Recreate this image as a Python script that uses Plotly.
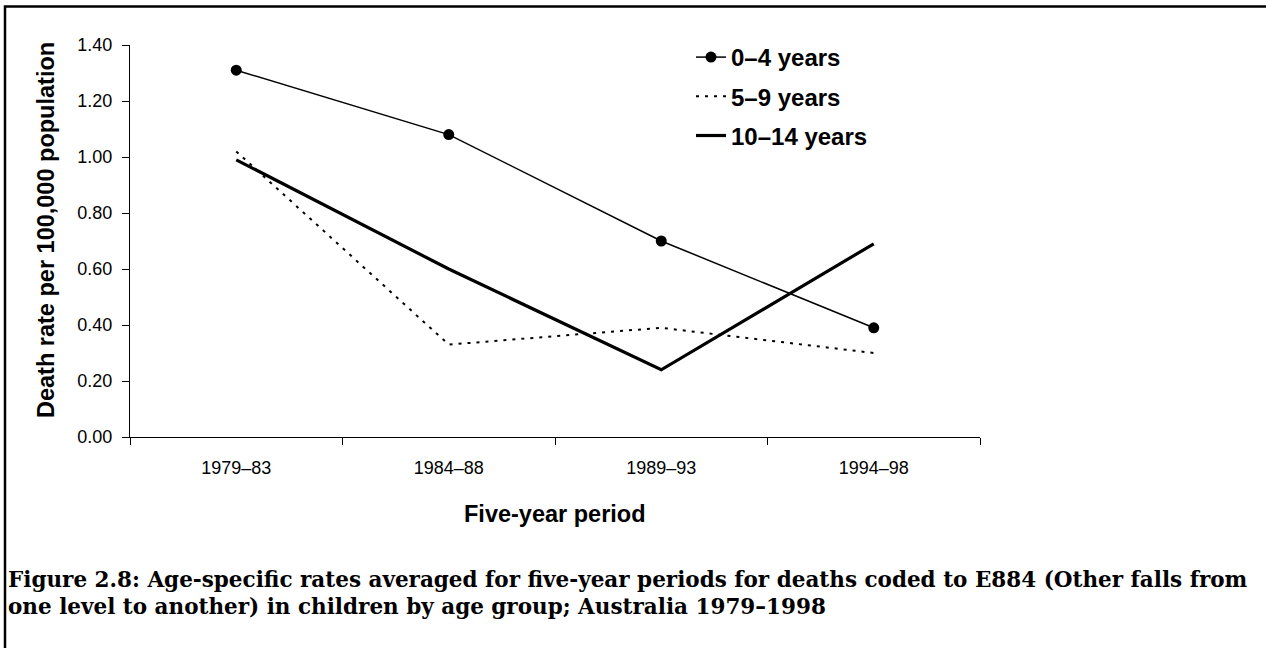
import plotly.graph_objects as go

periods = ["1979–83", "1984–88", "1989–93", "1994–98"]
age_0_4 = [1.31, 1.08, 0.70, 0.39]
age_5_9 = [1.02, 0.33, 0.39, 0.30]
age_10_14 = [0.99, 0.60, 0.24, 0.69]
y_ticks = [0.0, 0.2, 0.4, 0.6, 0.8, 1.0, 1.2, 1.4]

W, H = 1266, 648
L, R, T, B = 130, 286, 45, 211
pw, ph = W - L - R, H - T - B

def px_x(p):
    return (p - L) / pw

def px_y(p):
    return (H - B - p) / ph

fig = go.Figure()
fig.add_trace(go.Scatter(x=periods, y=age_0_4, name="0–4 years", mode="lines+markers",
                         line=dict(color="black", width=1.5),
                         marker=dict(color="black", size=11), legendgroup="a"))
fig.add_trace(go.Scatter(x=periods, y=age_5_9, name="5–9 years", mode="lines",
                         line=dict(color="black", width=2, dash="3px,6px"), legendgroup="b"))
fig.add_trace(go.Scatter(x=periods, y=age_10_14, name="10–14 years", mode="lines",
                         line=dict(color="black", width=3.2), legendgroup="c"))

fig.update_layout(
    width=W, height=H,
    margin=dict(l=L, r=R, t=T, b=B),
    paper_bgcolor="white", plot_bgcolor="white",
    font=dict(family="Liberation Sans, Arial", color="black", size=18),
    showlegend=True,
    legend=dict(x=px_x(691), y=px_y(35), xanchor="left", yanchor="top",
                font=dict(size=24, family="Liberation Sans, Arial", weight="bold"),
                traceorder="grouped", tracegroupgap=5, bgcolor="rgba(0,0,0,0)"),
    xaxis=dict(type="category", range=[-0.5, 3.5], showline=True, linecolor="black",
               linewidth=1, ticks="outside", tickson="boundaries", ticklen=7,
               tickcolor="black", showgrid=False, zeroline=False,
               tickfont=dict(size=18), ticklabelstandoff=14),
    yaxis=dict(range=[0, 1.4], tickvals=y_ticks, tickformat=".2f", showline=True,
               linecolor="black", linewidth=1, ticks="outside", ticklen=7,
               tickcolor="black", showgrid=False, zeroline=False,
               tickfont=dict(size=18), ticklabelstandoff=6),
)

fig.add_annotation(text="<b>Death rate per 100,000 population</b>", textangle=-90,
                   xref="paper", yref="paper", x=px_x(46), y=px_y(230),
                   xanchor="center", yanchor="middle",
                   showarrow=False, font=dict(size=23.5))
fig.add_annotation(text="<b>Five-year period</b>", xref="paper", yref="paper",
                   x=0.5, y=px_y(514), xanchor="center", yanchor="middle",
                   showarrow=False, font=dict(size=23.5))

caption_lines = [
    "Figure 2.8: Age-specific rates averaged for five-year periods for deaths coded to E884 (Other falls from",
    "one level to another) in children by age group; Australia 1979–1998",
]
for line_text, cy in zip(caption_lines, [579, 606]):
    fig.add_annotation(
        text="<b>" + line_text + "</b>",
        xref="paper", yref="paper", x=px_x(6), y=px_y(cy), xanchor="left", yanchor="middle",
        align="left", showarrow=False,
        font=dict(size=21.5, family="DejaVu Serif, Liberation Serif, serif"))

fig.add_shape(type="rect", xref="paper", yref="paper",
              x0=px_x(5), x1=px_x(1290), y0=px_y(670), y1=px_y(6.5),
              line=dict(color="black", width=2.5), fillcolor="rgba(0,0,0,0)", layer="above")

fig.write_html("out.html", config={"displayModeBar": False},
               post_script="document.body.style.margin='0';")
